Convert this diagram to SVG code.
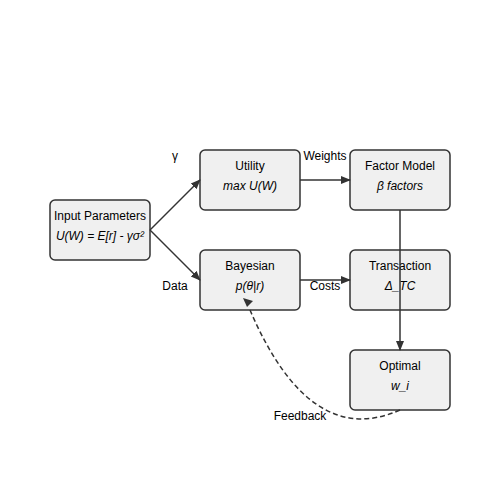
<svg xmlns="http://www.w3.org/2000/svg" width="500" height="500" viewBox="0 0 500 500">
<defs>
<marker id="arr" viewBox="0 0 10 10" refX="9" refY="5" markerWidth="10" markerHeight="10" markerUnits="userSpaceOnUse" orient="auto">
<path d="M0,1 L10,5 L0,9 Z" fill="#333"/>
</marker>
</defs>
<style>
.box{fill:#f0f0f0;stroke:#333;stroke-width:1.5}
.t{font-family:"Liberation Sans",Arial,sans-serif;font-size:12px;fill:#000;text-anchor:middle}
.s{font-style:italic}
.e{fill:none;stroke:#333;stroke-width:1.5}
</style>
<rect width="500" height="500" fill="#fff"/>
<g id="input">
<rect class="box" x="50" y="200" width="100" height="60" rx="5"/>
<text class="t" x="100" y="220">Input Parameters</text>
<text class="t s" x="100" y="240">U(W) = E[r] - γσ²</text>
</g>
<g id="utility">
<rect class="box" x="200" y="150" width="100" height="60" rx="5"/>
<text class="t" x="250" y="170">Utility</text>
<text class="t s" x="250" y="190">max U(W)</text>
</g>
<g id="factor">
<rect class="box" x="350" y="150" width="100" height="60" rx="5"/>
<text class="t" x="400" y="170">Factor Model</text>
<text class="t s" x="400" y="190">β factors</text>
</g>
<g id="bayesian">
<rect class="box" x="200" y="250" width="100" height="60" rx="5"/>
<text class="t" x="250" y="270">Bayesian</text>
<text class="t s" x="250" y="290">p(θ|r)</text>
</g>
<g id="transaction">
<rect class="box" x="350" y="250" width="100" height="60" rx="5"/>
<text class="t" x="400" y="270">Transaction</text>
<text class="t s" x="400" y="290">Δ_TC</text>
</g>
<g id="optimal">
<rect class="box" x="350" y="350" width="100" height="60" rx="5"/>
<text class="t" x="400" y="370">Optimal</text>
<text class="t s" x="400" y="390">w_i</text>
</g>
<g id="connectors">
<line class="e" x1="150" y1="230" x2="200" y2="180" marker-end="url(#arr)"/>
<line class="e" x1="150" y1="230" x2="200" y2="280" marker-end="url(#arr)"/>
<line class="e" x1="300" y1="180" x2="350" y2="180" marker-end="url(#arr)"/>
<line class="e" x1="300" y1="280" x2="350" y2="280" marker-end="url(#arr)"/>
<line class="e" x1="400" y1="210" x2="400" y2="350" marker-end="url(#arr)"/>
<path class="e" d="M400,410 Q310,450 250,310" stroke-dasharray="5,3"/>
<path d="M243,298 L253,301 L247,307 Z" fill="#333"/>
<text class="t" x="175" y="160">γ</text>
<text class="t" x="325" y="160">Weights</text>
<text class="t" x="175" y="290">Data</text>
<text class="t" x="325" y="290">Costs</text>
<text class="t" x="300" y="420">Feedback</text>
</g>
</svg>
